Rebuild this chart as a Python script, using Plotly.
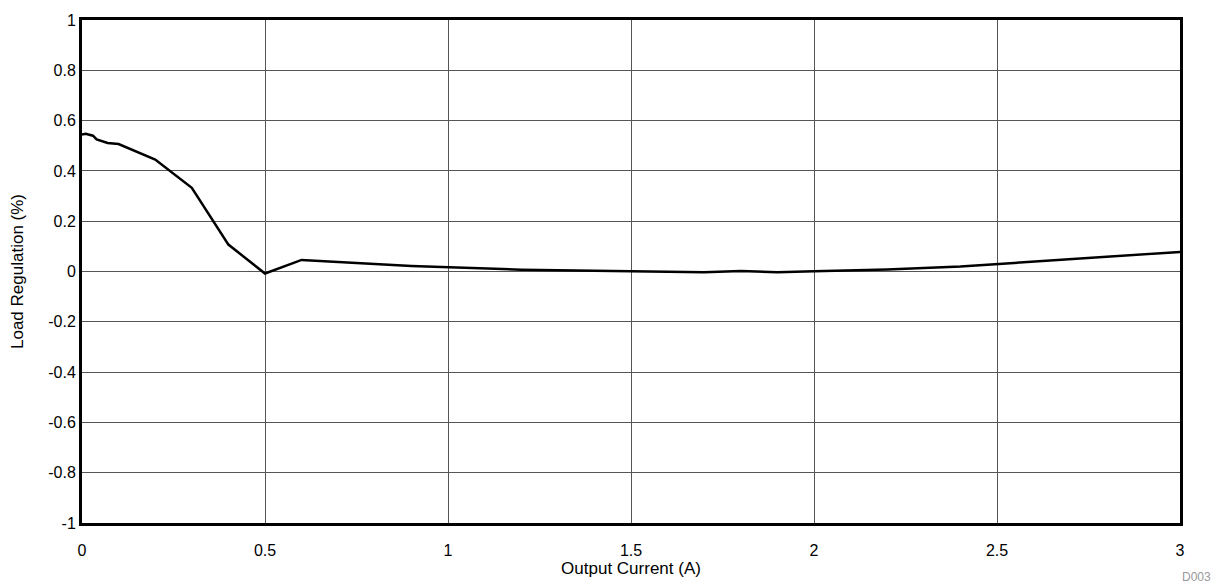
import plotly.graph_objects as go

current_a = [0.0, 0.01, 0.03, 0.04, 0.07, 0.1, 0.2, 0.3, 0.4, 0.5, 0.6, 0.9, 1.2, 1.5, 1.7, 1.8, 1.9, 2.0, 2.2, 2.4, 2.5, 2.7, 3.0]
load_reg = [0.545, 0.548, 0.54, 0.525, 0.511, 0.507, 0.445, 0.333, 0.107, -0.008, 0.046, 0.022, 0.007, 0.001, -0.003, 0.002, -0.003, 0.001, 0.008, 0.02, 0.03, 0.05, 0.078]

x_ticks = [0, 0.5, 1, 1.5, 2, 2.5, 3]
x_tick_text = ["0", "0.5", "1", "1.5", "2", "2.5", "3"]
y_ticks = [-1, -0.8, -0.6, -0.4, -0.2, 0, 0.2, 0.4, 0.6, 0.8, 1]
y_tick_text = ["-1", "-0.8", "-0.6", "-0.4", "-0.2", "0", "0.2", "0.4", "0.6", "0.8", "1"]

fig = go.Figure()
fig.add_trace(go.Scatter(x=current_a, y=load_reg, mode="lines",
                         line=dict(color="black", width=2.5), showlegend=False))

FAM = "Liberation Sans, Arial, sans-serif"
tick_font = dict(family=FAM, size=16, color="black")
title_font = dict(family=FAM, size=17, color="black")
fig.update_layout(
    width=1217, height=584,
    margin=dict(l=82, r=37, t=17, b=61),
    paper_bgcolor="white", plot_bgcolor="white",
    font=tick_font,
    xaxis=dict(range=[0, 3], tickvals=x_ticks, ticktext=x_tick_text, tickfont=tick_font,
               showgrid=True, gridcolor="#555555", gridwidth=1, ticklabelstandoff=11,
               zeroline=False, showline=True, linecolor="black", linewidth=3, mirror=True,
               ticks="", title=dict(text="Output Current (A)", standoff=1, font=title_font)),
    yaxis=dict(range=[-1, 1], tickvals=y_ticks, ticktext=y_tick_text, tickfont=tick_font,
               showgrid=True, gridcolor="#555555", gridwidth=1,
               zeroline=False, showline=True, linecolor="black", linewidth=3, mirror=True,
               ticks="", title=dict(text="Load Regulation (%)", standoff=21, font=title_font)),
    annotations=[dict(text="D003", x=1.0, y=0, xref="paper", yref="paper",
                      xanchor="left", yanchor="middle", xshift=0, yshift=-54, showarrow=False,
                      font=dict(family=FAM, size=12, color="#999999"))],
)
fig.write_html("out.html", config={"displayModeBar": False})

with open("out.html", "r", encoding="utf-8") as f:
    html = f.read()
html = html.replace("<body>", "<body style=\"margin:0;overflow:hidden\">", 1)
with open("out.html", "w", encoding="utf-8") as f:
    f.write(html)
